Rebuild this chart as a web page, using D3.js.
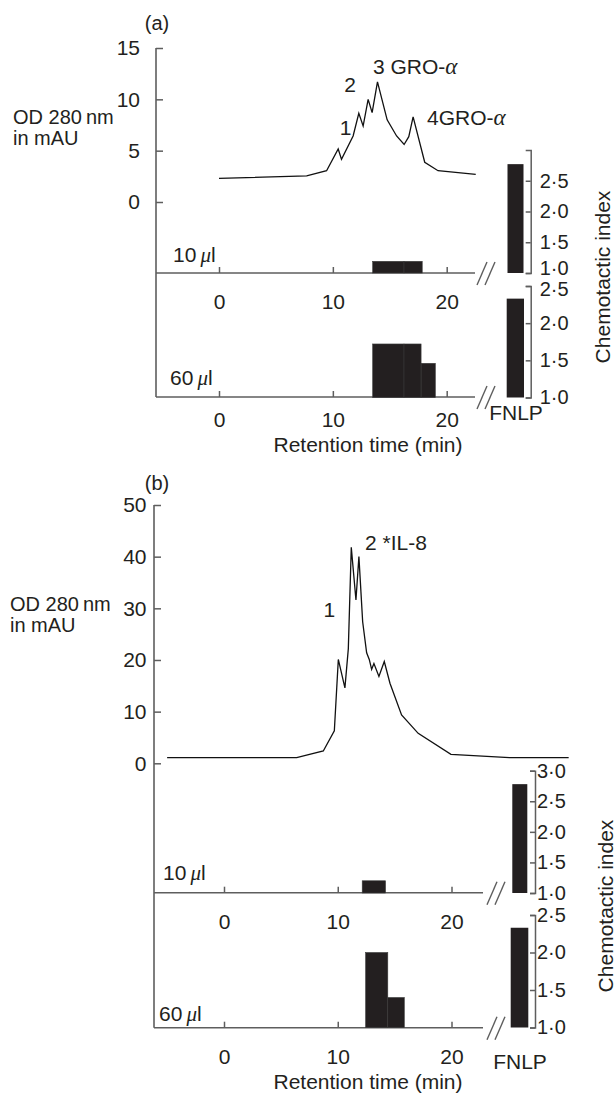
<!DOCTYPE html>
<html><head><meta charset="utf-8">
<script src="https://cdn.jsdelivr.net/npm/d3@7"></script>
<style>body{margin:0;background:#fff}svg{display:block}text{font-family:"Liberation Sans",Arial,Helvetica,sans-serif;fill:#231f20}</style>
</head><body>
<script>
// ---------- DATA ----------
const timeA = [0, 7.7, 9.45, 10.47, 10.76, 11.78, 12.28, 12.66, 13.1, 13.45, 13.92, 14.77, 15.6, 16.26, 16.67, 17.05, 18.07, 19.24, 22.55];
const odA   = [2.3, 2.55, 3.05, 5.16, 4.15, 6.43, 8.63, 7.4, 10.0, 8.7, 11.7, 8.0, 6.43, 5.6, 6.36, 8.3, 3.87, 3.05, 2.7];
const timeB = [-5.0, 6.39, 8.73, 9.7, 10.05, 10.63, 10.93, 11.19, 11.6, 11.86, 12.19, 12.54, 12.77, 12.98, 13.18, 13.62, 14.09, 14.59, 15.61, 17.07, 19.95, 25.1, 30.3];
const odB   = [1.08, 1.08, 2.38, 6.3, 20.1, 14.6, 22.2, 41.8, 31.6, 40.0, 27.4, 21.4, 20.1, 18.2, 19.3, 16.8, 19.7, 15.5, 9.35, 5.8, 1.74, 1.08, 1.08];

const odTicksA = [0, 5, 10, 15];
const odTicksB = [0, 10, 20, 30, 40, 50];
const timeTicks = [0, 10, 20];
const chemTicksUpperA = [1, 1.5, 2, 2.5];
const chemTicksUpperB = [1, 1.5, 2, 2.5, 3];
const chemTicksLower = [1, 1.5, 2, 2.5];

// fraction bars: start time, end time, chemotactic index
const bars10A_start = [13.5, 16.25];
const bars10A_end   = [16.25, 17.85];
const bars10A_val   = [1.19, 1.19];
const bars60A_start = [13.5, 16.25, 17.75];
const bars60A_end   = [16.25, 17.75, 19.0];
const bars60A_val   = [1.72, 1.72, 1.46];
const bars10B_start = [12.15];
const bars10B_end   = [14.2];
const bars10B_val   = [1.2];
const bars60B_start = [12.45, 14.4];
const bars60B_end   = [14.4, 15.85];
const bars60B_val   = [2.0, 1.4];

const fnlpCat = ["FNLP"];
const fnlpA = [2.77, 2.33]; // 10 µl, 60 µl
const fnlpB = [2.78, 2.33];

const peakLabelsA = ["1", "2", "3 GRO-", "4GRO-"];
const peakLabelsB = ["1", "2 *IL-8"];

// ---------- DRAW ----------
const W = 616, H = 1094;
const svg = d3.select("body").append("svg").attr("width", W).attr("height", H);
svg.append("rect").attr("width", W).attr("height", H).attr("fill", "#fff");

const AX = "#5e5e5e", INK = "#231f20";
const FS = 21;
const fmt = d => d3.format(".1f")(d).replace(".", "\u00b7");

function brk(g, x0, yb) {
  [0, 8].forEach(o => g.append("line")
    .attr("x1", x0 + o).attr("y1", yb + 12).attr("x2", x0 + o + 10).attr("y2", yb - 11)
    .attr("stroke", AX).attr("stroke-width", 1.4));
}

function styleAxis(sel, fs) {
  sel.selectAll("line").attr("stroke", AX).attr("stroke-width", 1.5);
  sel.selectAll("path.domain").attr("stroke", AX).attr("stroke-width", 1.5).attr("fill", "none");
  sel.selectAll("text").attr("font-size", fs || FS).attr("fill", INK).style("font-family", null);
}

function ulText(g, x, y, num) {
  const t = g.append("text").attr("x", x).attr("y", y).attr("font-size", FS);
  t.append("tspan").text(num + "\u2009");
  t.append("tspan").text("\u03bc").attr("font-style", "italic").style("font-family", "'Liberation Serif',serif");
  t.append("tspan").text("l");
}

function panel(c) {
  const g = svg.append("g");
  const x = d3.scaleLinear().domain([0, 20]).range(c.xr);
  const y = d3.scaleLinear().domain(c.odDomain).range(c.odRange);
  const yU = d3.scaleLinear().domain([1, 3]).range(c.upRange);
  const yL = d3.scaleLinear().domain([1, 2.5]).range(c.loRange);

  // left vertical axis line
  g.append("line").attr("x1", c.leftX).attr("x2", c.leftX).attr("y1", c.odRange[1]).attr("y2", c.base60)
    .attr("stroke", AX).attr("stroke-width", 1.6);
  const la = g.append("g").attr("transform", `translate(${c.leftX},0)`)
    .call(d3.axisLeft(y).tickValues(c.odTicks).tickSizeInner(-7).tickSizeOuter(0).tickPadding(c.leftPad));
  la.select(".domain").remove();
  styleAxis(la);

  // chromatogram
  const pts = c.time.map((t, i) => [t, c.od[i]]);
  g.append("path").datum(pts)
    .attr("d", d3.line().x(d => x(d[0])).y(d => y(d[1])))
    .attr("fill", "none").attr("stroke", "#111").attr("stroke-width", 1.3).attr("stroke-linejoin", "miter");

  // horizontal time axes
  [[c.base10, c.pad10], [c.base60, c.pad60]].forEach(([yb, pad]) => {
    g.append("line").attr("x1", c.leftX).attr("x2", c.axisEnd).attr("y1", yb).attr("y2", yb)
      .attr("stroke", AX).attr("stroke-width", 1.6);
    const xa = g.append("g").attr("transform", `translate(0,${yb})`)
      .call(d3.axisBottom(x).tickValues(timeTicks).tickSizeInner(-6).tickSizeOuter(0).tickPadding(pad));
    xa.select(".domain").remove();
    styleAxis(xa);
    brk(g, c.breakX, yb);
  });

  // fraction bars
  c.b10s.forEach((s, i) => g.append("rect")
    .attr("x", x(s)).attr("width", x(c.b10e[i]) - x(s))
    .attr("y", yU(c.b10v[i])).attr("height", yU(1) - yU(c.b10v[i]))
    .attr("fill", INK).attr("stroke", "#3a3a3a").attr("stroke-width", 0.6));
  c.b60s.forEach((s, i) => g.append("rect")
    .attr("x", x(s)).attr("width", x(c.b60e[i]) - x(s))
    .attr("y", yL(c.b60v[i])).attr("height", yL(1) - yL(c.b60v[i]))
    .attr("fill", INK).attr("stroke", "#3a3a3a").attr("stroke-width", 0.6));

  // FNLP bars
  const bU = d3.scaleBand().domain(fnlpCat).range(c.fnlpU);
  const bL = d3.scaleBand().domain(fnlpCat).range(c.fnlpL);
  g.append("rect").attr("x", bU("FNLP")).attr("width", bU.bandwidth())
    .attr("y", yU(c.fnlp[0])).attr("height", yU(1) - yU(c.fnlp[0])).attr("fill", INK);
  g.append("rect").attr("x", bL("FNLP")).attr("width", bL.bandwidth())
    .attr("y", yL(c.fnlp[1])).attr("height", yL(1) - yL(c.fnlp[1])).attr("fill", INK);

  // right chemotactic axes
  const ra = g.append("g").attr("transform", `translate(${c.chemX},0)`)
    .call(d3.axisRight(yU).tickValues(c.upTicks).tickFormat(fmt).tickSizeInner(-5).tickSizeOuter(-5).tickPadding(c.rightPad));
  styleAxis(ra, 20);
  const rb = g.append("g").attr("transform", `translate(${c.chemX},0)`)
    .call(d3.axisRight(yL).tickValues(chemTicksLower).tickFormat(fmt).tickSizeInner(-5).tickSizeOuter(-5).tickPadding(c.rightPad));
  styleAxis(rb, 20);
  if (c.tightRight) {
    ra.selectAll(".tick").filter(d => d === 1).select("text").attr("dy", "0.05em");
    rb.selectAll(".tick").filter(d => d === 2.5).select("text").attr("dy", "0.45em");
  }

  // texts
  g.append("text").attr("x", c.tagX).attr("y", c.tagY).attr("text-anchor", "middle").attr("font-size", 20).text(c.tag);
  g.append("text").attr("x", c.odX).attr("y", c.odY).attr("font-size", 20).text("OD 280\u2009nm");
  g.append("text").attr("x", c.odX).attr("y", c.odY + 21).attr("font-size", 20).text("in mAU");
  ulText(g, c.ul10[0], c.ul10[1], "10");
  ulText(g, c.ul60[0], c.ul60[1], "60");
  g.append("text").attr("x", c.fnlpTxt[0]).attr("y", c.fnlpTxt[1]).attr("text-anchor", "middle").attr("font-size", FS).text("FNLP");
  g.append("text").attr("x", 368).attr("y", c.rtY).attr("text-anchor", "middle").attr("font-size", FS).text("Retention time (min)");
  g.append("text").attr("transform", `translate(${c.ciPos[0]},${c.ciPos[1]}) rotate(-90)`)
    .attr("text-anchor", "middle").attr("font-size", 21).text("Chemotactic index");

  c.peaks.forEach((p, i) => {
    const t = g.append("text").attr("x", p[0]).attr("y", p[1]).attr("font-size", FS).attr("text-anchor", p[2] || "start");
    t.append("tspan").text(c.peakLabels[i]);
    if (p[3]) t.append("tspan").text("\u03b1").attr("font-style", "italic").style("font-family", "'Liberation Serif',serif").attr("font-size", 23);
  });
}

panel({
  tag: "(a)", tagX: 157, tagY: 30,
  xr: [219, 446.7], leftX: 156, odDomain: [0, 15], odRange: [202, 48], odTicks: odTicksA, leftPad: 16,
  time: timeA, od: odA,
  base10: 273, base60: 397, axisEnd: 475, pad10: 21, pad60: 15, breakX: 477,
  b10s: bars10A_start, b10e: bars10A_end, b10v: bars10A_val,
  b60s: bars60A_start, b60e: bars60A_end, b60v: bars60A_val,
  upRange: [273, 150], loRange: [397.5, 286], chemX: 530.7, upTicks: chemTicksUpperA, rightPad: 9, tightRight: true,
  fnlp: fnlpA, fnlpU: [507.5, 523.5], fnlpL: [506.7, 524],
  odX: 13, odY: 124, ul10: [173, 262], ul60: [170, 385], fnlpTxt: [516, 420], rtY: 452, ciPos: [610, 277],
  peakLabels: peakLabelsA,
  peaks: [[345.7, 135, "middle"], [350, 92, "middle"], [373, 74, "start", true], [427, 125, "start", true]]
});

panel({
  tag: "(b)", tagX: 157, tagY: 490,
  xr: [224, 451.5], leftX: 154, odDomain: [0, 50], odRange: [763.3, 505], odTicks: odTicksB, leftPad: 7.5,
  time: timeB, od: odB,
  base10: 892.7, base60: 1027.7, axisEnd: 483, pad10: 21.5, pad60: 21.5, breakX: 487,
  b10s: bars10B_start, b10e: bars10B_end, b10v: bars10B_val,
  b60s: bars60B_start, b60e: bars60B_end, b60v: bars60B_val,
  upRange: [893, 770.7], loRange: [1027.5, 915], chemX: 535, upTicks: chemTicksUpperB, rightPad: 2,
  fnlp: fnlpB, fnlpU: [512.3, 527.3], fnlpL: [510.7, 528.3],
  odX: 10, odY: 611, ul10: [163, 880], ul60: [159, 1021], fnlpTxt: [520, 1069], rtY: 1089, ciPos: [613, 906],
  peakLabels: peakLabelsB,
  peaks: [[329.3, 617, "middle"], [365, 550, "start"]]
});
</script>
</body></html>
